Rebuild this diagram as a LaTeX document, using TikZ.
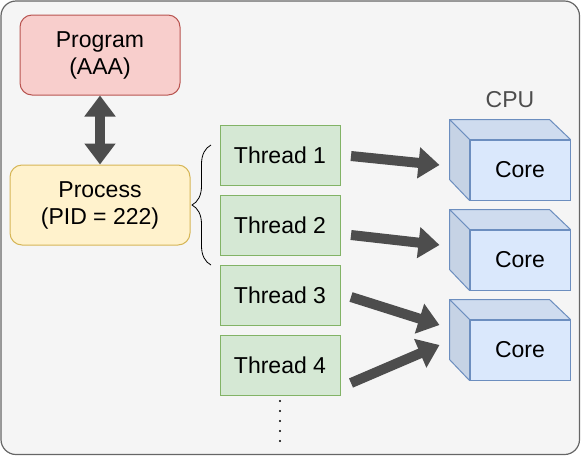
\documentclass[tikz,border=0pt]{standalone}
\usepackage{fontspec}
\setmainfont{Liberation Sans}
\usepackage{tikz}
\usetikzlibrary{arrows.meta,positioning,calc,decorations.pathreplacing}
\usepackage{xcolor}

\definecolor{framefill}{HTML}{F5F5F5}
\definecolor{frameline}{HTML}{666666}
\definecolor{progfill}{HTML}{F8CECC}
\definecolor{progline}{HTML}{B85450}
\definecolor{procfill}{HTML}{FFF2CC}
\definecolor{procline}{HTML}{D6B656}
\definecolor{thrfill}{HTML}{D5E8D4}
\definecolor{thrline}{HTML}{82B366}
\definecolor{corefill}{HTML}{DAE8FC}
\definecolor{coreline}{HTML}{6C8EBF}
\definecolor{fatgray}{HTML}{4D4D4D}

\tikzset{
  txt/.style={font=\fontsize{23}{27}\selectfont, align=center, inner sep=0pt},
  rbox/.style={txt, rectangle, rounded corners=12pt, line width=1pt,
    minimum height=80pt},
  thread/.style={txt, rectangle, draw=thrline, fill=thrfill, line width=1pt,
    minimum width=120pt, minimum height=60pt, outer sep=0pt},
  core/.style={txt, rectangle, draw=coreline, fill=corefill, line width=1pt,
    minimum width=100pt, minimum height=60pt},
  fatarrow/.style={draw=fatgray, line width=10pt,
    -{Triangle[width=30pt,length=21pt]}},
}

\begin{document}
\begin{tikzpicture}[x=1pt,y=-1pt]
\useasboundingbox (0,0) rectangle (581,456);
\draw [fill=framefill, draw=frameline, line width=1.2pt, rounded corners=15pt] (1,1) rectangle (579.5,454.5);

% program and process
\node (prog) [rbox, fill=progfill, draw=progline, minimum width=160pt] at (100,55) {Program\\(AAA)};
\node (proc) [rbox, fill=procfill, draw=procline, minimum width=180pt] at (100,205) {Process\\(PID = 222)};
\draw [fatarrow, {Triangle[width=30pt,length=21pt]}-{Triangle[width=30pt,length=21pt]}] (prog.south) -- (proc.north);

% threads
\node (t1) [thread] at (280,155) {Thread 1};
\node (t2) [thread, below=10pt of t1] {Thread 2};
\node (t3) [thread, below=10pt of t2] {Thread 3};
\node (t4) [thread, below=10pt of t3] {Thread 4};
\foreach \k in {0,...,4}
  \fill (280,401+10*\k) circle (1.1pt);

\draw [decorate, decoration={brace, amplitude=19pt}, line width=0.8pt] (211,265) -- (211,145);

% cores
\node (cpu) [txt, text=fatgray] at (510,100) {CPU};
\node (c1) [core] at (520,170) {Core};
\node (c2) [core] at (520,260) {Core};
\node (c3) [core] at (520,350) {Core};
\foreach \c in {c1,c2,c3} {
  \draw [draw=coreline, fill=corefill!95!black, line width=1pt, line join=round]
    (\c.north west) -- ++(-20,-20) -- ++(100,0) -- (\c.north east) -- cycle;
  \draw [draw=coreline, fill=corefill!91!black, line width=1pt, line join=round]
    (\c.north west) -- ++(-20,-20) -- ++(0,60) -- (\c.south west) -- cycle;
}

% threads to cores
\draw [fatarrow] ($(t1.east)+(11,1)$) -- ($(c1.west)+(-30,-5)$);
\draw [fatarrow] ($(t2.east)+(11,10)$) -- ($(c2.west)+(-30,-15)$);
\draw [fatarrow] ($(t3.east)+(11,2)$) -- ($(c3.west)+(-30,-25)$);
\draw [fatarrow] ($(t4.east)+(11,18)$) -- ($(c3.west)+(-30,-5)$);
\end{tikzpicture}
\end{document}
